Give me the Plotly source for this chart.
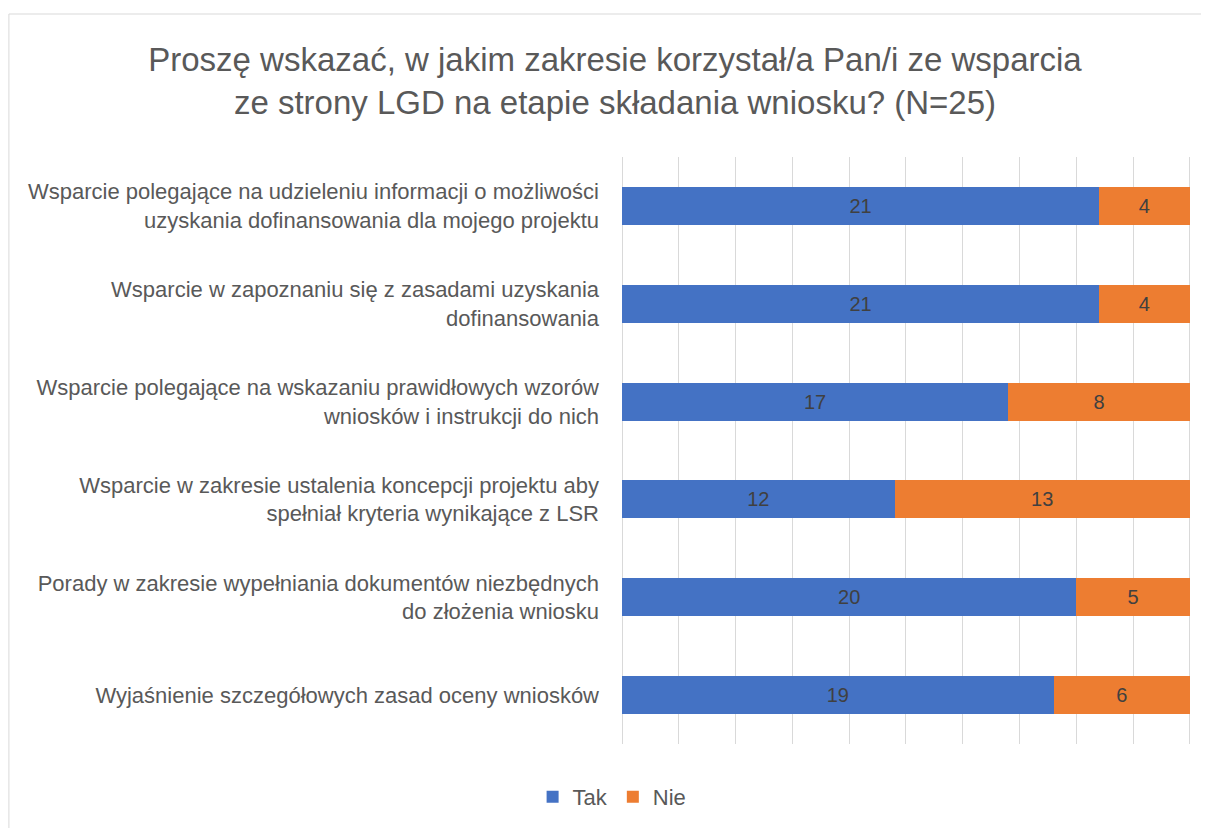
import plotly.graph_objects as go

# 데이터
categories = [
    "Wsparcie polegające na udzieleniu informacji o możliwości<br>uzyskania dofinansowania dla mojego projektu",
    "Wsparcie w zapoznaniu się z zasadami uzyskania<br>dofinansowania",
    "Wsparcie polegające na wskazaniu prawidłowych wzorów<br>wniosków i instrukcji do nich",
    "Wsparcie w zakresie ustalenia koncepcji projektu aby<br>spełniał kryteria wynikające z LSR",
    "Porady w zakresie wypełniania dokumentów niezbędnych<br>do złożenia wniosku",
    "Wyjaśnienie szczegółowych zasad oceny wniosków",
]
tak = [21, 21, 17, 12, 20, 19]
nie = [4, 4, 8, 13, 5, 6]

title_text = ("Proszę wskazać, w jakim zakresie korzystał/a Pan/i ze wsparcia<br>"
              "ze strony LGD na etapie składania wniosku? (N=25)")

FONT = "Liberation Sans"
GREY = "#595959"

fig = go.Figure()
fig.add_trace(go.Bar(
    y=categories, x=tak, name="Tak", orientation="h",
    marker=dict(color="#4472C4", line=dict(width=0)),
    text=tak, textposition="inside", insidetextanchor="middle",
    textfont=dict(color="#404040", size=20, family=FONT),
))
fig.add_trace(go.Bar(
    y=categories, x=nie, name="Nie", orientation="h",
    marker=dict(color="#ED7D31", line=dict(width=0)),
    text=nie, textposition="inside", insidetextanchor="middle",
    textfont=dict(color="#404040", size=20, family=FONT),
))

# 레이아웃 (페이지 body 여백 8px 보정)
fig.update_layout(
    barmode="stack",
    bargap=0.61,
    width=1201, height=820,
    margin=dict(l=614, r=18, t=149, b=84),
    paper_bgcolor="white", plot_bgcolor="white",
    font=dict(family=FONT, color=GREY, size=22),
    title=dict(text=title_text, xref="container", x=0.5054, xanchor="center",
               yref="container", y=0.9226, yanchor="middle",
               font=dict(size=33, color=GREY, family=FONT)),
    xaxis=dict(range=[0, 25.05], dtick=2.5, showticklabels=False, showgrid=True,
               gridcolor="#d9d9d9", gridwidth=1, zeroline=True,
               zerolinecolor="#d9d9d9", zerolinewidth=1, showline=False,
               fixedrange=True),
    yaxis=dict(autorange="reversed", showgrid=False, zeroline=False, showline=False,
               ticks="", ticklabelstandoff=22, tickfont=dict(size=22, color=GREY)),
    legend=dict(orientation="h", xref="container", x=0.503, xanchor="center",
                yref="container", y=0.0378, yanchor="middle",
                font=dict(size=22, color=GREY), traceorder="normal"),
    uniformtext=dict(mode=False),
)

# 테두리 (위/왼쪽만 보임)
fig.add_shape(type="rect", xref="paper", yref="paper",
              x0=-1.0775, x1=1.2, y0=-0.3, y1=1.2436,
              line=dict(color="#d9d9d9", width=1), fillcolor="rgba(0,0,0,0)", layer="below")

fig.write_html("out.html")
